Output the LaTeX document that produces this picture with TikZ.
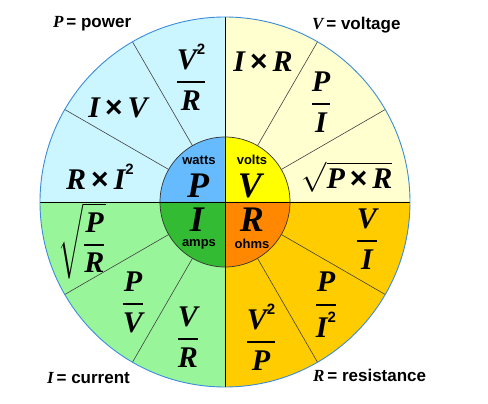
\RequirePackage{fix-cm}
\documentclass[tikz,border=0pt]{standalone}
\usepackage{fontspec}
\usepackage{amsmath}
\setmainfont{Liberation Serif}
\setsansfont{Liberation Sans}

% wheel colours
\definecolor{pwrout}{RGB}{204,246,255}
\definecolor{voltout}{RGB}{255,255,208}
\definecolor{curout}{RGB}{153,245,153}
\definecolor{resout}{RGB}{255,204,0}
\definecolor{pwrin}{RGB}{102,187,255}
\definecolor{voltin}{RGB}{255,255,0}
\definecolor{curin}{RGB}{51,187,51}
\definecolor{resin}{RGB}{255,136,0}
\definecolor{rim}{RGB}{60,140,220}

% letters and bits of the formulas
\newcommand\bv[1]{\mbox{\rmfamily\bfseries\itshape #1}}
\newcommand\sqd{\mbox{\raisebox{0.5em}{\fontsize{15}{15}\selectfont\sffamily\bfseries 2}}}
\newcommand\tms{\mbox{\sffamily\bfseries\,×\,}}
\newcommand\fr[2]{\genfrac{}{}{2.2pt}{0}{#1}{#2}}

\tikzset{
  formula/.style={font=\fontsize{30}{36}\selectfont, inner sep=0pt},
  unitword/.style={font=\fontsize{13}{14}\selectfont\sffamily\bfseries, inner sep=0pt},
  bigletter/.style={font=\fontsize{36}{40}\selectfont\rmfamily\bfseries\itshape, inner sep=0pt},
  caption/.style={font=\fontsize{17}{20}\selectfont, anchor=base west, inner sep=0pt},
  spoke/.style={draw=black!75, line width=0.6pt},
}

\begin{document}
\begin{tikzpicture}[x=1pt,y=1pt]
    \useasboundingbox (-225,-202) rectangle (263,202);

    % Outer quarters
    \fill[pwrout] (0,0) -- (180:185) arc[start angle=180, end angle=90, radius=185] -- cycle;
    \fill[voltout] (0,0) -- (90:185) arc[start angle=90, end angle=0, radius=185] -- cycle;
    \fill[curout] (0,0) -- (180:185) arc[start angle=180, end angle=270, radius=185] -- cycle;
    \fill[resout] (0,0) -- (270:185) arc[start angle=270, end angle=360, radius=185] -- cycle;

    % Spokes between the formulas
    \foreach \a in {30,60,120,150,210,240,300,330}
        \draw[spoke] (\a:65) -- (\a:185);

    % Cross and rim
    \draw[black, line width=0.7pt] (-185,0) -- (185,0);
    \draw[black, line width=0.7pt] (0,-185) -- (0,185);
    \draw[rim, line width=0.9pt] (0,0) circle[radius=185];

    % Inner quarters
    \fill[pwrin] (0,0) -- (180:65) arc[start angle=180, end angle=90, radius=65] -- cycle;
    \fill[voltin] (0,0) -- (90:65) arc[start angle=90, end angle=0, radius=65] -- cycle;
    \fill[curin] (0,0) -- (180:65) arc[start angle=180, end angle=270, radius=65] -- cycle;
    \fill[resin] (0,0) -- (270:65) arc[start angle=270, end angle=360, radius=65] -- cycle;
    \draw[black, line width=0.7pt] (-65,0) -- (65,0);
    \draw[black, line width=0.7pt] (0,-65) -- (0,65);
    \draw[black!80, line width=0.7pt] (0,0) circle[radius=65];

    % Inner letters and units
    \node[unitword] (watts) at (-26,42) {watts};
    \node[bigletter] (letP) at (-27,16) {P};
    \node[unitword] (volts) at (27,42) {volts};
    \node[bigletter] (letV) at (25,16) {V};
    \node[bigletter] (letI) at (-28,-18) {I};
    \node[unitword] (amps) at (-26,-42) {amps};
    \node[bigletter] (letR) at (27,-18) {R};
    \node[unitword] (ohms) at (27,-42) {ohms};

    % Power
    \node[formula] (pvr) at (-34,125) {$\fr{\bv{V}\sqd}{\bv{R}}$};
    \node[formula] (piv) at (-107,94) {\bv{I}\tms\bv{V}};
    \node[formula] (pri) at (-125,25) {\bv{R}\tms\bv{I}\sqd};

    % Voltage
    \node[formula] (vir) at (38,140) {\bv{I}\tms\bv{R}};
    \node[formula] (vpi) at (96,100) {$\fr{\bv{P}}{\bv{I}}$};
    \node[formula] (vpr) at (122,25) {$\sqrt{\bv{P}\tms\bv{R}}$};

    % Current
    \node[formula] (ipr) at (-143,-39) {$\sqrt{\fr{\bv{P}}{\bv{R}}}$};
    \node[formula] (ipv) at (-92,-100) {$\fr{\bv{P}}{\bv{V}}$};
    \node[formula] (ivr) at (-37,-135) {$\fr{\bv{V}}{\bv{R}}$};

    % Resistance
    \node[formula] (rvi) at (142,-37) {$\fr{\bv{V}}{\bv{I}}$};
    \node[formula] (rpi) at (101,-103) {$\fr{\bv{P}}{\bv{I}\sqd}$};
    \node[formula] (rvp) at (36,-135) {$\fr{\bv{V}\sqd}{\bv{P}}$};

    % Corner captions
    \node[caption] (cpwr) at (-172,174) {\bv{P}\,\textsf{\bfseries = power}};
    \node[caption] (cvolt) at (87,172) {\bv{V}\,\textsf{\bfseries = voltage}};
    \node[caption] (ccur) at (-178,-182) {\bv{I}\,\textsf{\bfseries = current}};
    \node[caption] (cres) at (88,-180) {\bv{R}\,\textsf{\bfseries = resistance}};
\end{tikzpicture}
\end{document}
